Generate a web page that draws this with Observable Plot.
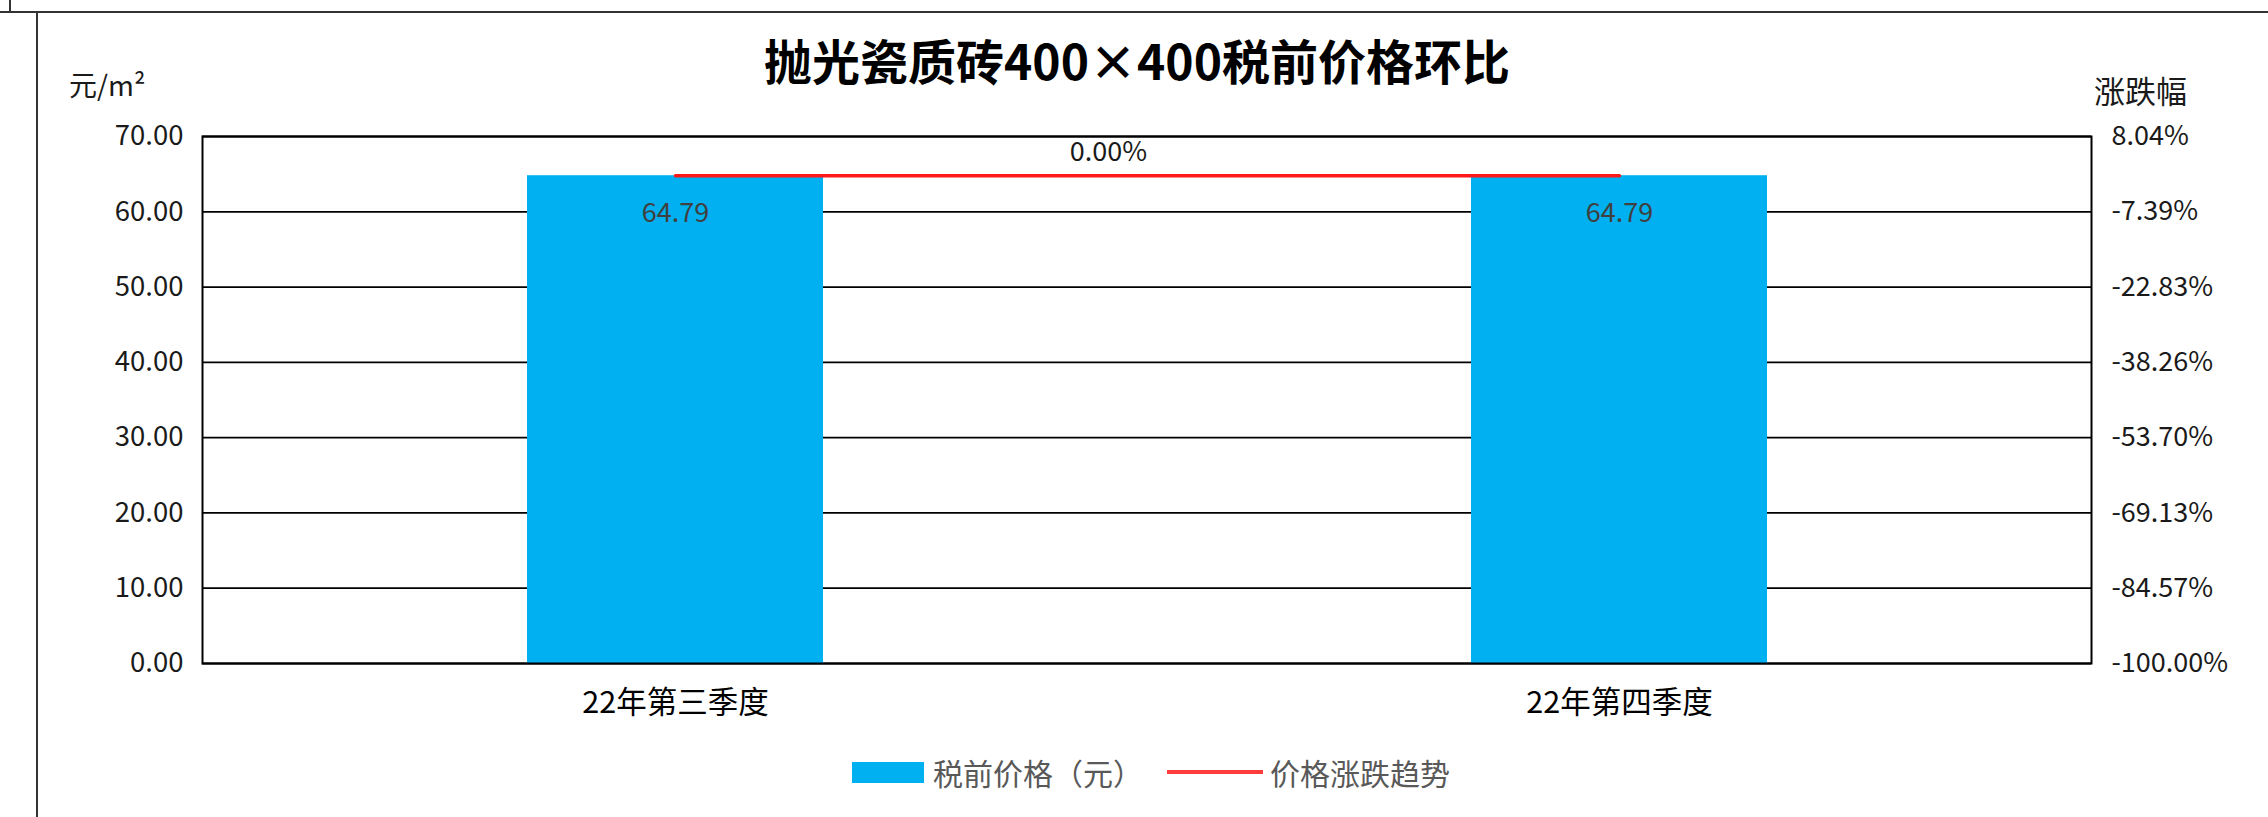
<!DOCTYPE html>
<html>
<head>
<meta charset="utf-8">
<script src="https://cdn.jsdelivr.net/npm/d3@7"></script>
<script src="https://cdn.jsdelivr.net/npm/@observablehq/plot@0.6"></script>
<style>
  html, body { margin: 0; padding: 0; background: #fff; }
  #page { position: relative; width: 2268px; height: 817px; overflow: hidden; background: #fff;
          font-family: "Noto Sans CJK SC", "Noto Sans", sans-serif; }
  .abs { position: absolute; white-space: nowrap; }
  #chart { position: absolute; left: 0; top: 0; }
  #title { left: 1137px; top: 59px; transform: translate(-50%, -50%); font-size: 48px; font-weight: 700; color: #000; }
  #yl { left: 69px; top: 84px; transform: translateY(-50%); font-size: 28px; color: #1a1a1a; }
  #yr { left: 2094px; top: 89px; transform: translateY(-50%); font-size: 31px; color: #1a1a1a; }
  .legend-item { position: absolute; top: 772px; transform: translateY(-50%); font-size: 30px; color: #595959; display: flex; align-items: center; }
</style>
</head>
<body>
<div id="page">
  <div class="abs" style="left:0;top:11px;width:2268px;height:2px;background:#333;"></div>
  <div class="abs" style="left:36px;top:11px;width:2px;height:806px;background:#333;"></div>
  <div class="abs" style="left:9px;top:0;width:2px;height:12px;background:#333;"></div>
  <div id="chart"></div>
  <div id="title" class="abs"></div>
  <div id="yl" class="abs"></div>
  <div id="yr" class="abs"></div>
  <div id="legend"></div>
</div>
<script>
// ---- data ----
const chartTitle = "抛光瓷质砖400×400税前价格环比";
const leftAxisTitle = "元/m²";
const rightAxisTitle = "涨跌幅";
const categories = ["22年第三季度", "22年第四季度"];
const prices = [64.79, 64.79];            // 税前价格（元）
const changes = [0.00, 0.00];             // 价格涨跌趋势 (%)
const leftTicks = [0, 10, 20, 30, 40, 50, 60, 70];
const rightTicks = [-100.00, -84.57, -69.13, -53.70, -38.26, -22.83, -7.39, 8.04];
const legendLabels = ["税前价格（元）", "价格涨跌趋势"];
const barColor = "#00B0F0";
const lineColor = "#FF1A1A";

// ---- build ----
const rows = categories.map((c, i) => ({category: c, price: prices[i], change: changes[i]}));
const lMin = leftTicks[0], lMax = leftTicks[leftTicks.length - 1];
const rMin = rightTicks[0], rMax = rightTicks[rightTicks.length - 1];
const toLeft = p => lMin + (p - rMin) / (rMax - rMin) * (lMax - lMin);
const fromLeft = v => rMin + (v - lMin) / (lMax - lMin) * (rMax - rMin);

const plot = Plot.plot({
  width: 2268,
  height: 740,
  marginLeft: 202,
  marginRight: 177,
  marginTop: 136,
  marginBottom: 77,
  style: {fontFamily: "'Noto Sans CJK SC', 'Noto Sans', sans-serif", background: "transparent", color: "#1a1a1a"},
  x: {domain: categories, padding: 0, label: null},
  y: {domain: [lMin, lMax], label: null},
  marks: [
    Plot.gridY(leftTicks, {stroke: "#000", strokeOpacity: 1, strokeWidth: 1.8}),
    Plot.barY(rows, {x: "category", y: "price", fill: barColor, insetLeft: 324, insetRight: 324}),
    Plot.frame({stroke: "#000", strokeWidth: 2}),
    Plot.line(rows, {x: "category", y: d => toLeft(d.change), stroke: lineColor, strokeWidth: 3.5}),
    Plot.text(rows, {x: "category", y: "price", text: d => d.price.toFixed(2), dy: 38, fill: "#404040", fontSize: 27}),
    Plot.text([rows[1]], {x: "category", y: d => toLeft(d.change), text: d => d.change.toFixed(2) + "%", dx: -511, dy: -23, fill: "#1a1a1a", fontSize: 27}),
    Plot.axisY(leftTicks, {anchor: "left", tickSize: 0, tickPadding: 19, tickFormat: d => d.toFixed(2), fontSize: 27.5, fill: "#1a1a1a"}),
    Plot.axisY(rightTicks.map(toLeft), {anchor: "right", tickSize: 0, tickPadding: 20, tickFormat: d => fromLeft(d).toFixed(2) + "%", fontSize: 27, fill: "#1a1a1a", textAnchor: "start"}),
    Plot.axisX({tickSize: 0, tickPadding: 28, fontSize: 30.5, fill: "#000"})
  ]
});
document.getElementById("chart").appendChild(plot);
document.getElementById("title").textContent = chartTitle;
document.getElementById("yl").textContent = leftAxisTitle;
document.getElementById("yr").textContent = rightAxisTitle;

const legend = document.getElementById("legend");
const item1 = document.createElement("div");
item1.className = "legend-item";
item1.style.left = "852px";
item1.innerHTML = `<span style="display:inline-block;width:72px;height:21px;background:${barColor};margin-right:9px"></span><span>${legendLabels[0]}</span>`;
legend.appendChild(item1);
const item2 = document.createElement("div");
item2.className = "legend-item";
item2.style.left = "1167px";
item2.innerHTML = `<span style="display:inline-block;width:96px;height:4px;background:${lineColor};opacity:0.85;margin-right:7px"></span><span>${legendLabels[1]}</span>`;
legend.appendChild(item2);
</script>
</body>
</html>
